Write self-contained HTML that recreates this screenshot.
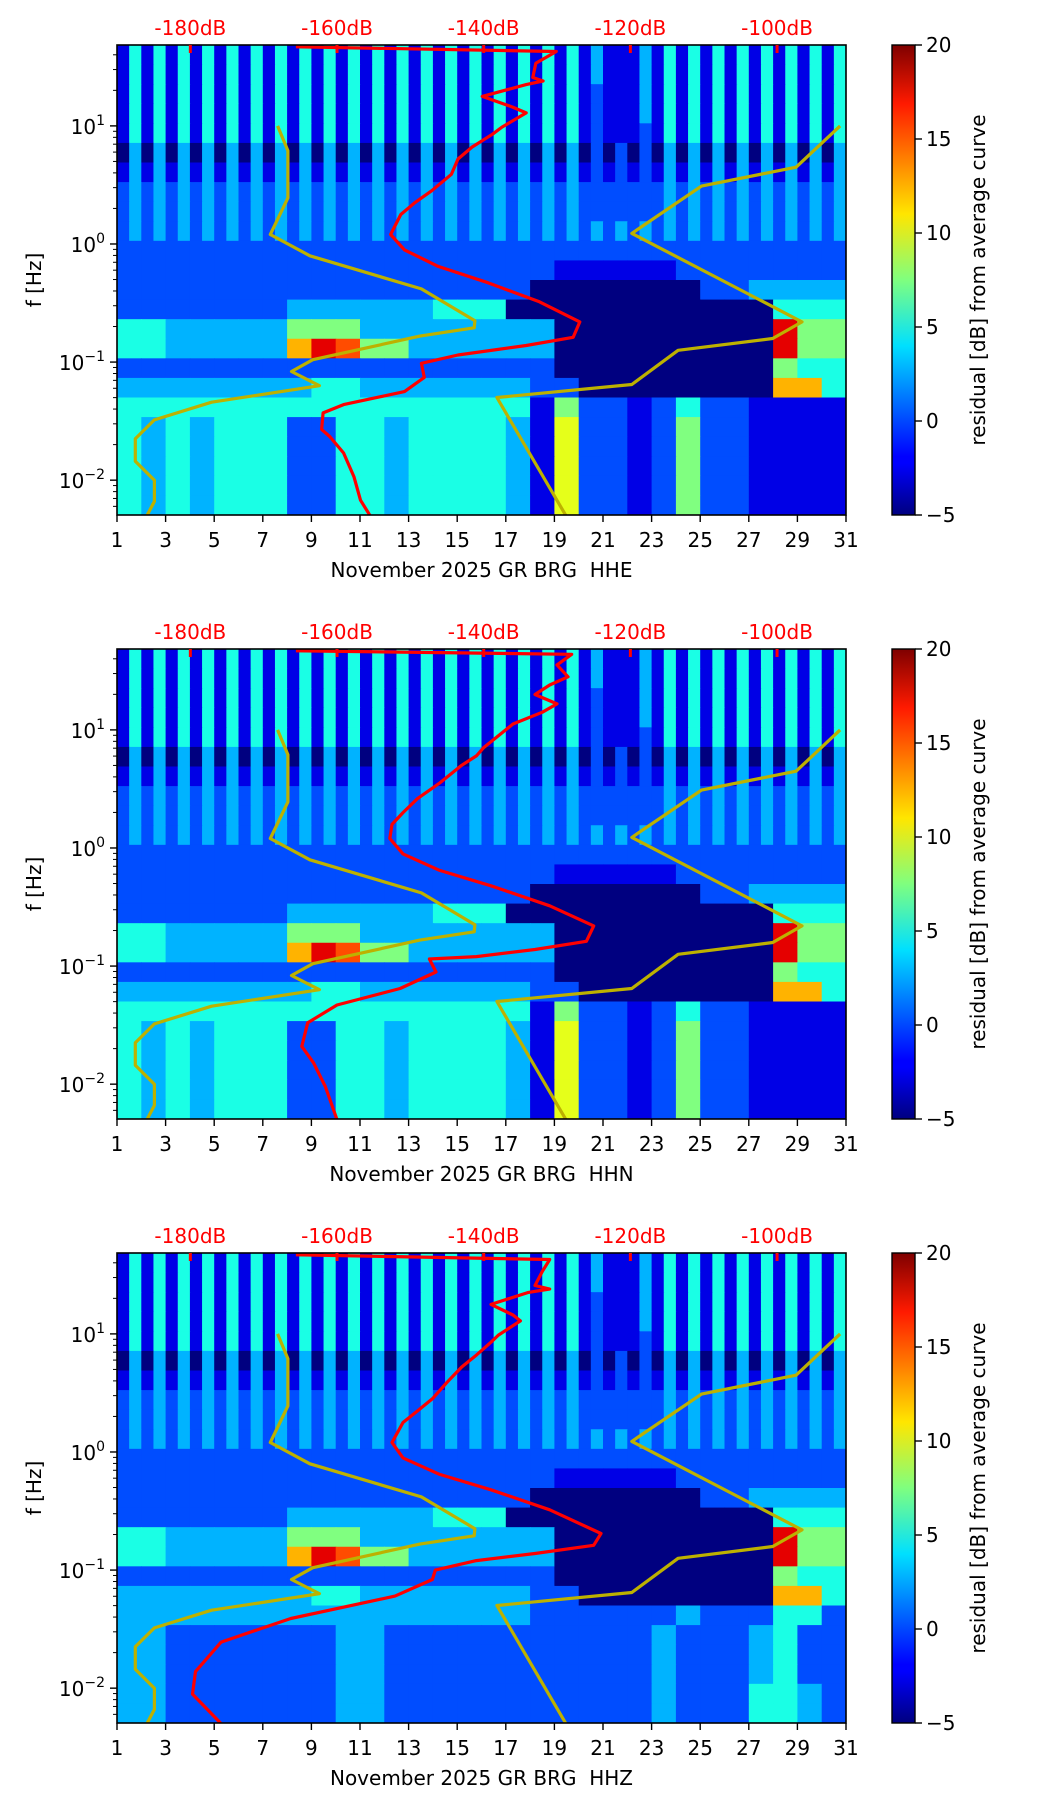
<!DOCTYPE html>
<html><head><meta charset="utf-8">
<style>
html,body{margin:0;padding:0;background:#fff;}
svg{display:block;}
text{font-family:"DejaVu Sans","Liberation Sans",sans-serif;white-space:pre;}
</style></head>
<body>
<svg id="fig" width="1052" height="1806" viewBox="0 0 1052 1806" xmlns="http://www.w3.org/2000/svg">
<defs>
<linearGradient id="jetgrad" x1="0" y1="1" x2="0" y2="0">
<stop offset="0" stop-color="#00007f"/><stop offset="0.11" stop-color="#0000ff"/>
<stop offset="0.125" stop-color="#0000ff"/><stop offset="0.36" stop-color="#00e0ff"/>
<stop offset="0.5" stop-color="#7fff7f"/><stop offset="0.64" stop-color="#ffe600"/>
<stop offset="0.875" stop-color="#ff1a00"/><stop offset="1" stop-color="#7f0000"/>
</linearGradient>
</defs>
</svg>
<script>
// ---- data ----
const dayTicks=[1,3,5,7,9,11,13,15,17,19,21,23,25,27,29,31];
const dbTicks=[-180,-160,-140,-120,-100];
const freqDecades=[1,0,-1,-2];
const cbTicks=[-5,0,5,10,15,20];
const channels=["HHE","HHN","HHZ"];
// residual heatmap rows (top -> bottom), digit d => -5 + 2.5*d dB
const rowsShared=[
"14141414141414141414141414141414141414131113141414141414141414",
"14141414141414141414141414141414141414131113141414141414141414",
"14141414141414141414141414141414141414121113141414141414141414",
"14141414141414141414141414141414141414121113141414141414141414",
"14141414141414141414141414141414141414121112141414141414141414",
"03030303030303030303030303030303030303020202030303030303030303",
"13131313131313131313131313131313131313121212131313131313131313",
"23232323232323232323232323232323232323222222232323232323232323",
"23232323232323232323232323232323232323222222232323232323232323",
"232323232323232323232323232323232323232323232323232323232323",
"222222222222222222222222222222",
"222222222222222222111112222222",
"222222222222222220000000223333",
"222222233333344400000000000444",
"443333355533333333000000000955",
"443333379855333333000000000955",
"222222222222222222000000000544",
"333333334433333332200000000774",
"444444444444444441522124221111",
"434344422443444431622125221111",
"434344422443444431622125221111",
"434344422443444431622125221111",
"434344422443444431622125221111",
"434344422443444431622125221111"];
const rowsBottomHHZ=[
"333333333333333332222223222442",
"332222222332222222222232223422",
"332222222332222222222232223422",
"332222222332222222222232223422",
"332222222332222222222232224432",
"332222222332222222222232224432"];
// noise model curves: [dB, log10 f]
const nlnmDb=[-168.1,-166.7,-166.7,-169.1,-163.7,-148.5,-141.2,-141.3,-148.7,-163.3,-166.2,-162.4,-177.1,-184.9,-187.5,-187.5,-184.9,-184.9,-186.0];
const nlnmLogf=[1.0,0.79,0.39,0.08,-0.10,-0.38,-0.65,-0.71,-0.78,-0.98,-1.08,-1.20,-1.34,-1.49,-1.65,-1.84,-2.00,-2.18,-2.31];
const nhnmDb=[-91.4,-97.4,-110.3,-119.8,-96.6,-100.6,-113.5,-119.8,-138.2,-128.7];
const nhnmLogf=[1.0,0.65,0.49,0.09,-0.66,-0.80,-0.90,-1.19,-1.30,-2.31];
// mean PSD curves per channel
const psdDbHHE=[-165.6,-130.1,-132.9,-133.3,-131.9,-134.2,-140.2,-136.1,-134.2,-137.5,-138.8,-141.6,-143.5,-144.4,-147.1,-149.4,-151.3,-152.7,-150.8,-146.2,-139.8,-132.4,-126.9,-127.8,-134.2,-143.5,-148.5,-148.1,-150.8,-159.1,-161.9,-162.1,-161.0,-159.1,-157.7,-156.8,-155.4];
const psdLogfHHE=[1.67,1.63,1.53,1.41,1.38,1.35,1.25,1.16,1.11,0.99,0.93,0.82,0.72,0.59,0.45,0.35,0.25,0.08,-0.05,-0.19,-0.32,-0.49,-0.66,-0.79,-0.86,-0.94,-1.01,-1.13,-1.25,-1.36,-1.43,-1.57,-1.63,-1.77,-1.97,-2.17,-2.31];
const psdDbHHN=[-165.6,-128,-130,-128.5,-131,-133,-130,-132,-136,-138,-140,-141,-143,-146,-149,-151,-152.5,-152.8,-151,-146,-139,-131,-125,-126,-133,-141,-147.4,-146.5,-151.4,-160,-164,-164.8,-163.2,-161.6,-160];
const psdLogfHHN=[1.67,1.64,1.55,1.45,1.38,1.30,1.22,1.15,1.05,0.95,0.85,0.78,0.70,0.55,0.42,0.30,0.20,0.08,-0.05,-0.19,-0.32,-0.49,-0.66,-0.79,-0.86,-0.92,-0.94,-1.05,-1.19,-1.33,-1.48,-1.68,-1.82,-2.02,-2.30];
const psdDbHHZ=[-165.6,-131,-132,-133,-131,-134,-139,-136,-135,-138,-139,-141,-143,-145,-147,-149,-151,-152.5,-151,-146,-139,-131,-124,-125,-133,-141,-146.6,-147,-152.1,-166.3,-175.8,-179.3,-179.7,-175.8];
const psdLogfHHZ=[1.67,1.63,1.53,1.41,1.38,1.35,1.25,1.16,1.11,0.99,0.93,0.82,0.72,0.59,0.45,0.35,0.25,0.08,-0.05,-0.19,-0.32,-0.49,-0.69,-0.79,-0.86,-0.92,-1.00,-1.08,-1.22,-1.41,-1.61,-1.86,-2.05,-2.30];

// ---- layout ----
const NS="http://www.w3.org/2000/svg";
const svg=document.getElementById('fig');
const AX_L=117, AX_R=846, AX_H=470;
const panelTops=[45,649,1253];
const LOGF_TOP=1.685, LOGF_BOT=-2.295;
const DB_MIN=-190, DB_MAX=-90.6;
const CB_L=892, CB_R=915;
function el(tag,attrs,parent){const e=document.createElementNS(NS,tag);for(const k in attrs)e.setAttribute(k,attrs[k]);(parent||svg).appendChild(e);return e;}
function xDay(d){return AX_L+(d-1)*(AX_R-AX_L)/30;}
function xDb(db){return AX_L+(db-DB_MIN)*(AX_R-AX_L)/(DB_MAX-DB_MIN);}
function yF(top,lf){return top+(LOGF_TOP-lf)/(LOGF_TOP-LOGF_BOT)*AX_H;}
function jet(v){const t=Math.max(0,Math.min(1,(v+5)/25));const c=x=>Math.round(255*Math.max(0,Math.min(1,1.5-Math.abs(4*t-x))));return `rgb(${c(3)},${c(2)},${c(1)})`;}

panelTops.forEach((top,pi)=>{
  const ch=channels[pi];
  const g=el('g',{});
  
  
  const cp=el('clipPath',{id:'clip'+pi},g);
  el('rect',{x:AX_L,y:top,width:AX_R-AX_L,height:AX_H},cp);
  const hm=el('g',{'clip-path':`url(#clip${pi})`},g);
  
  
  const rows=rowsShared.map((r,i)=>(pi===2&&i>=18)?rowsBottomHHZ[i-18]:r);
  const nR=rows.length, rowStep=(LOGF_TOP-LOGF_BOT)/nR;
  rows.forEach((s,ri)=>{
    const L=s.length>=60?60:30; const span=30/L;
    const y0=yF(top,LOGF_TOP-ri*rowStep), y1=yF(top,LOGF_TOP-(ri+1)*rowStep);
    for(let c=0;c<L;c++){
      const v=-5+parseInt(s[c])*2.5;
      const x0=xDay(1+c*span), x1=xDay(1+(c+1)*span);
      const r=el('rect',{x:x0,y:y0,width:x1-x0+0.6,height:y1-y0+0.6,fill:jet(v)},hm);
      
      
    }
  });
  const pts=(dbs,lfs)=>dbs.map((d,i)=>xDb(d).toFixed(1)+','+yF(top,lfs[i]).toFixed(1)).join(' ');
  const nl=el('polyline',{points:pts(nlnmDb,nlnmLogf),fill:'none',stroke:'#bdb100','stroke-width':3.2,'stroke-linejoin':'round','clip-path':`url(#clip${pi})`},g);
  
  
  const nh=el('polyline',{points:pts(nhnmDb,nhnmLogf),fill:'none',stroke:'#bdb100','stroke-width':3.2,'stroke-linejoin':'round','clip-path':`url(#clip${pi})`},g);
  
  
  const pd=[psdDbHHE,psdDbHHN,psdDbHHZ][pi], pl=[psdLogfHHE,psdLogfHHN,psdLogfHHZ][pi];
  const ps=el('polyline',{points:pts(pd,pl),fill:'none',stroke:'#ff0000','stroke-width':3.2,'stroke-linejoin':'round','clip-path':`url(#clip${pi})`},g);
  
  
  const fr=el('rect',{x:AX_L,y:top,width:AX_R-AX_L,height:AX_H,fill:'none',stroke:'#000','stroke-width':1.6},g);
  
  
  dayTicks.forEach(d=>{
    const x=xDay(d);
    el('line',{x1:x,x2:x,y1:top+AX_H,y2:top+AX_H+7,stroke:'#000','stroke-width':1.4},g);
    const t=el('text',{x:x,y:top+AX_H+32,'text-anchor':'middle','font-size':20,fill:'#000'},g);
    t.textContent=String(d);
    
    
  });
  const xl=el('text',{x:(AX_L+AX_R)/2,y:top+AX_H+62,'text-anchor':'middle','font-size':20,fill:'#000'},g);
  xl.textContent='November 2025 GR BRG  '+ch;
  
  
  freqDecades.forEach(dcd=>{
    const y=yF(top,dcd);
    el('line',{x1:AX_L-7,x2:AX_L,y1:y,y2:y,stroke:'#000','stroke-width':1.4},g);
    const t=el('text',{x:AX_L-12,y:y+8,'text-anchor':'end','font-size':20,fill:'#000'},g);
    const b=el('tspan',{},t);b.textContent='10';
    const s=el('tspan',{'font-size':14,dy:-9},t);s.textContent=dcd<0?'\u2212'+(-dcd):String(dcd);
    
    
    for(let m=2;m<=9;m++){
      const lf=dcd+Math.log10(m);
      if(lf>LOGF_TOP||lf<LOGF_BOT)continue;
      const ym=yF(top,lf);
      el('line',{x1:AX_L-4,x2:AX_L,y1:ym,y2:ym,stroke:'#000','stroke-width':1},g);
    }
  });
  for(let m=5;m<=9;m++){const ym=yF(top,-3+Math.log10(m));if(ym<=top+AX_H)el('line',{x1:AX_L-4,x2:AX_L,y1:ym,y2:ym,stroke:'#000','stroke-width':1},g);}
  const yl=el('text',{x:0,y:0,'text-anchor':'middle','font-size':20,fill:'#000',transform:`translate(41,${top+AX_H/2}) rotate(-90)`},g);
  yl.textContent='f [Hz]';
  
  
  dbTicks.forEach(db=>{
    const x=xDb(db);
    el('line',{x1:x,x2:x,y1:top,y2:top+8,stroke:'#ff0000','stroke-width':3},g);
    const t=el('text',{x:x,y:top-10,'text-anchor':'middle','font-size':20,fill:'#ff0000'},g);
    t.textContent=db+'dB';
    
    
  });
  const cb=el('g',{},g);
  
  
  el('rect',{x:CB_L,y:top,width:CB_R-CB_L,height:AX_H,fill:'url(#jetgrad)',stroke:'#000','stroke-width':1.4},cb);
  cbTicks.forEach(v=>{
    const y=top+AX_H-(v+5)/25*AX_H;
    el('line',{x1:CB_R,x2:CB_R+7,y1:y,y2:y,stroke:'#000','stroke-width':1.4},cb);
    const t=el('text',{x:CB_R+11,y:y+7,'font-size':20,fill:'#000'},cb);
    t.textContent=v<0?'\u2212'+(-v):String(v);
    
    
  });
  const cl=el('text',{x:0,y:0,'text-anchor':'middle','font-size':20,fill:'#000',transform:`translate(985,${top+AX_H/2}) rotate(-90)`},cb);
  cl.textContent='residual [dB] from average curve';
  
  
});
</script>
</body></html>
